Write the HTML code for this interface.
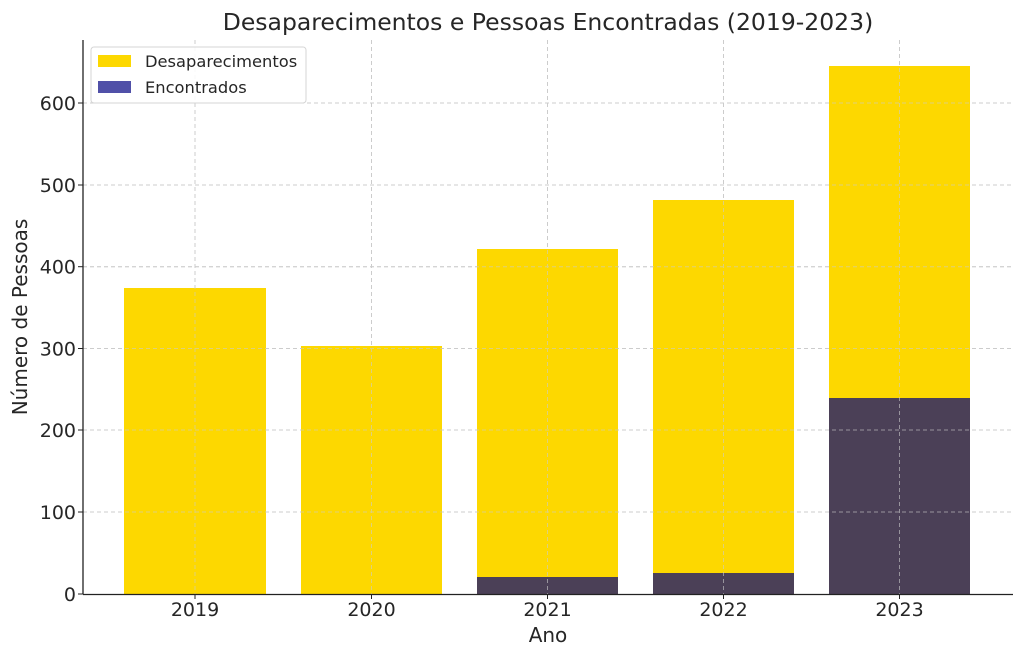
<!DOCTYPE html>
<html><head><meta charset="utf-8"><style>body{margin:0;background:#fff}svg{display:block}text{font-family:"DejaVu Sans","Liberation Sans",sans-serif;fill:#262626}</style></head><body>
<svg width="1024" height="662" viewBox="0 0 1024 662">
<rect width="1024" height="662" fill="#fff"/>
<g stroke="#cccccc" stroke-dasharray="4,3" stroke-width="1">
<line x1="83" x2="1013" y1="512" y2="512"/><line x1="83" x2="1013" y1="430" y2="430"/><line x1="83" x2="1013" y1="348.5" y2="348.5"/><line x1="83" x2="1013" y1="266.7" y2="266.7"/><line x1="83" x2="1013" y1="185" y2="185"/><line x1="83" x2="1013" y1="103" y2="103"/>
<line x1="195" x2="195" y1="40" y2="594"/><line x1="371.5" x2="371.5" y1="40" y2="594"/><line x1="547.5" x2="547.5" y1="40" y2="594"/><line x1="723.5" x2="723.5" y1="40" y2="594"/><line x1="899.5" x2="899.5" y1="40" y2="594"/>
</g>
<g fill="#fdd800">
<rect x="124" y="288" width="142" height="306"/><rect x="301" y="346" width="141" height="248"/><rect x="477" y="249" width="141" height="345"/><rect x="653" y="200" width="141" height="394"/><rect x="829" y="66" width="141" height="528"/>
</g>
<g fill="#4b4057">
<rect x="477" y="577" width="141" height="17"/><rect x="653" y="573" width="141" height="21"/><rect x="829" y="398" width="141" height="196"/>
</g>
<g stroke="#cccccc" stroke-dasharray="4,3" stroke-width="1" opacity="0.6">
<line x1="83" x2="1013" y1="512" y2="512"/><line x1="83" x2="1013" y1="430" y2="430"/><line x1="83" x2="1013" y1="348.5" y2="348.5"/><line x1="83" x2="1013" y1="266.7" y2="266.7"/><line x1="83" x2="1013" y1="185" y2="185"/><line x1="83" x2="1013" y1="103" y2="103"/>
<line x1="195" x2="195" y1="40" y2="594"/><line x1="371.5" x2="371.5" y1="40" y2="594"/><line x1="547.5" x2="547.5" y1="40" y2="594"/><line x1="723.5" x2="723.5" y1="40" y2="594"/><line x1="899.5" x2="899.5" y1="40" y2="594"/>
</g>
<line x1="83" y1="40" x2="83" y2="594.5" stroke="#222" stroke-width="1.3"/>
<line x1="83" y1="594.5" x2="1013" y2="594.5" stroke="#222" stroke-width="1.3"/>
<g stroke="#222"><line x1="78" x2="83" y1="594" y2="594"/><line x1="78" x2="83" y1="512" y2="512"/><line x1="78" x2="83" y1="430" y2="430"/><line x1="78" x2="83" y1="348.5" y2="348.5"/><line x1="78" x2="83" y1="266.7" y2="266.7"/><line x1="78" x2="83" y1="185" y2="185"/><line x1="78" x2="83" y1="103" y2="103"/>
<line x1="195" x2="195" y1="594" y2="599"/><line x1="371.5" x2="371.5" y1="594" y2="599"/><line x1="547.5" x2="547.5" y1="594" y2="599"/><line x1="723.5" x2="723.5" y1="594" y2="599"/><line x1="899.5" x2="899.5" y1="594" y2="599"/></g>
<g font-size="19" text-anchor="end"><text x="76" y="601">0</text><text x="76" y="519">100</text><text x="76" y="437">200</text><text x="76" y="355.5">300</text><text x="76" y="273.7">400</text><text x="76" y="192">500</text><text x="76" y="110">600</text></g>
<g font-size="19" text-anchor="middle"><text x="195" y="616">2019</text><text x="371.5" y="616">2020</text><text x="547.5" y="616">2021</text><text x="723.5" y="616">2022</text><text x="899.5" y="616">2023</text>
<text x="548" y="642" font-size="20">Ano</text>
<text x="548" y="30" font-size="23.5">Desaparecimentos e Pessoas Encontradas (2019-2023)</text>
<text transform="translate(27,317) rotate(-90)" font-size="20">Número de Pessoas</text></g>
<rect x="91" y="47" width="215" height="56" rx="3" fill="#fff" fill-opacity="0.85" stroke="#d5d5d5"/>
<rect x="98" y="55" width="33" height="12" fill="#fdd800"/>
<rect x="98" y="81" width="33" height="12" fill="#5050a8"/>
<g font-size="16.3"><text x="145" y="67">Desaparecimentos</text><text x="145" y="93">Encontrados</text></g>
</svg>
</body></html>
